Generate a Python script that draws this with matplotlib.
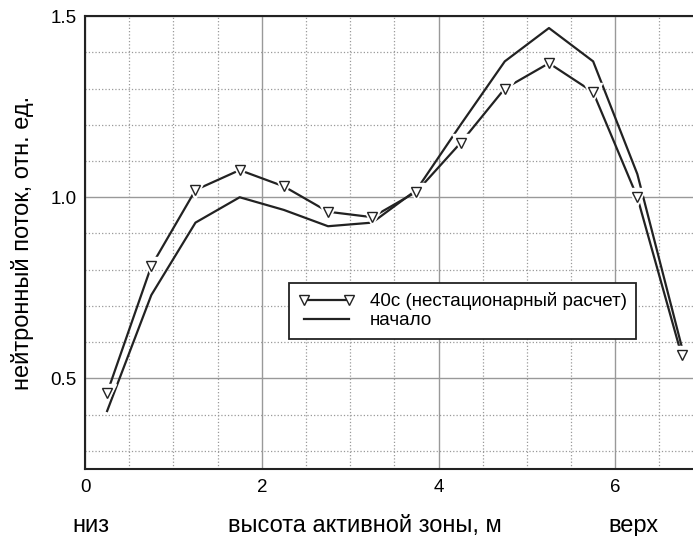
import numpy as np
import matplotlib
matplotlib.use('Agg')
import matplotlib.pyplot as plt
from matplotlib.ticker import MultipleLocator

plt.rcParams['font.family'] = ['Liberation Sans', 'DejaVu Sans']

# ── Data ─────────────────────────────────────────────────────────────
height   = [0.25, 0.75, 1.25, 1.75, 2.25, 2.75, 3.25,
            3.75, 4.25, 4.75, 5.25, 5.75, 6.25, 6.75]
flux_40s = [0.46, 0.81, 1.02, 1.075, 1.03, 0.96, 0.945,
            1.015, 1.15, 1.30, 1.37, 1.29, 1.00, 0.565]
flux_0   = [0.41, 0.73, 0.93, 1.00, 0.965, 0.92, 0.93,
            1.02, 1.20, 1.375, 1.467, 1.375, 1.064, 0.59]

label_40s = "40с (нестационарный расчет)"
label_0   = "начало"

fig = plt.figure(figsize=(6.93, 5.36), dpi=100)
ax = fig.add_axes([0.1227, 0.125, 0.8773, 0.845])

ax.plot(height, flux_0, color="#222222", linewidth=1.6, zorder=3)
ax.plot(height, flux_40s, color="#222222", linewidth=1.6, zorder=3)
# white halo so the line breaks around each marker
ax.plot(height, flux_40s, linestyle="none", marker="v", markersize=12.5,
        markerfacecolor="white", markeredgecolor="white", zorder=4)
ax.plot(height, flux_40s, linestyle="none", marker="v", markersize=7,
        markerfacecolor="white", markeredgecolor="#222222",
        markeredgewidth=1.0, zorder=5)

# legend proxies
h40, = ax.plot([], [], color="#222222", linewidth=1.6, marker="v",
               markersize=7, markerfacecolor="white",
               markeredgecolor="#222222", markeredgewidth=1.0)
h0, = ax.plot([], [], color="#222222", linewidth=1.6)

leg = ax.legend([h40, h0], [label_40s, label_0], numpoints=2,
                loc="upper left", bbox_to_anchor=(0.3355, 0.4106),
                borderaxespad=0, fontsize=13.5, frameon=True, fancybox=False,
                edgecolor="#222222", handlelength=3.0, handletextpad=0.8,
                borderpad=0.5, labelspacing=0.1)
leg.get_frame().set_linewidth(1.3)
leg.get_frame().set_alpha(1)
leg.set_zorder(6)

ax.set_xlim(0, 6.88)
ax.set_ylim(0.25, 1.5)
ax.xaxis.set_major_locator(MultipleLocator(2))
ax.xaxis.set_minor_locator(MultipleLocator(0.5))
ax.yaxis.set_major_locator(MultipleLocator(0.5))
ax.yaxis.set_minor_locator(MultipleLocator(0.1))

ax.grid(True, which="minor", color="#999999", linestyle=":", linewidth=0.9)
ax.grid(True, which="major", color="#999999", linestyle="-", linewidth=1.0)
ax.set_axisbelow(True)

ax.tick_params(which="both", length=0)
ax.tick_params(axis="x", pad=7, labelsize=13.5)
ax.tick_params(axis="y", pad=6, labelsize=13.5)
ax.set_yticks([0.5, 1.0, 1.5])
ax.set_yticklabels(["0.5", "1.0", "1.5"])

for side in ["left", "bottom", "top"]:
    ax.spines[side].set_linewidth(1.5)
    ax.spines[side].set_color("#222222")
ax.spines["right"].set_visible(False)

ax.set_ylabel("нейтронный поток, отн. ед.", fontsize=17, labelpad=12)

fig.text(0.105, 0.018, "низ", fontsize=17, ha="left", va="center")
fig.text(0.527, 0.018, "высота активной зоны, м", fontsize=17,
         ha="center", va="center")
fig.text(0.95, 0.018, "верх", fontsize=17, ha="right", va="center")

plt.savefig("out.png", dpi=100)
